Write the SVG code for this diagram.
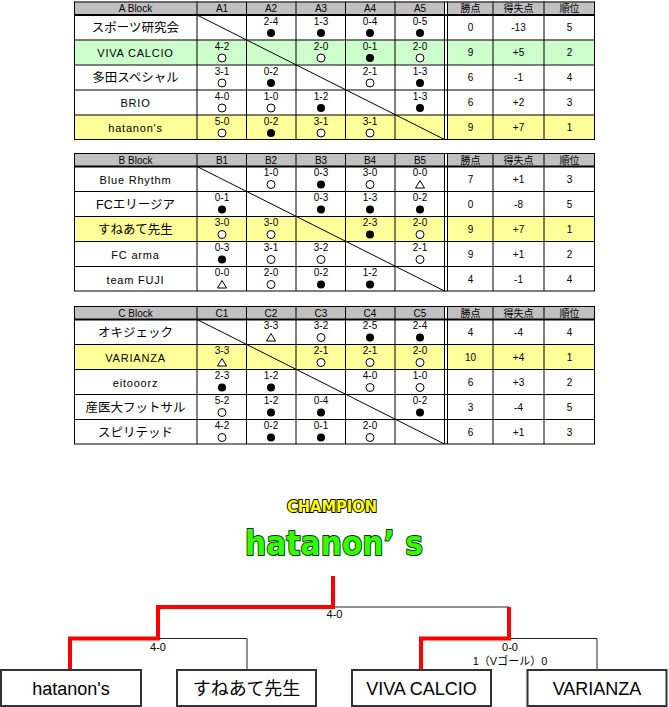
<svg xmlns="http://www.w3.org/2000/svg" xmlns:xlink="http://www.w3.org/1999/xlink" width="669" height="707" viewBox="0 0 669 707">
<style>
text { font-family: "Liberation Sans", "Noto Sans CJK JP", sans-serif; text-anchor: middle; fill: #000; }
.h { font-size: 10px; }
.s { font-size: 10px; }
.n { font-size: 12.5px; }
.nl { font-size: 11px; letter-spacing: 0.8px; }
.t { font-size: 10px; }
.hd { fill: #c0c0c0; }
.g { fill: #ccffcc; }
.y { fill: #ffff99; }
.ln { fill: none; stroke: #000; stroke-width: 1; }
.thk { fill: none; stroke: #000; stroke-width: 2; }
.br { fill: none; stroke: #222; stroke-width: 1; }
.red { fill: none; stroke: #ff0000; stroke-width: 4; }
.box { fill: #fff; stroke: #333; stroke-width: 2; }
.bt { font-size: 18px; }
.bl { font-size: 11px; }
</style>
<defs>
<circle id="w" r="4" fill="#fff" stroke="#000" stroke-width="1"/>
<circle id="l" r="4" fill="#000"/>
<path id="d" d="M0,-4 L4.5,3.5 L-4.5,3.5 Z" fill="#fff" stroke="#000" stroke-width="1"/>
<path id="grid" class="ln" d="M74,0.5H595 M74,38.5H595 M74,63.5H595 M74,88.5H595 M74,113.5H595 M74,138H595 M74.5,0V138 M197,0V138 M246.5,0V138 M296,0V138 M345.5,0V138 M395,0V138 M444.5,0V138 M447.5,0V138 M493,0V138 M544,0V138 M594.5,0V138"/>
</defs>

<!-- A Block -->
<g id="block-a" transform="translate(0,1.5)">
<rect class="hd" x="74" y="0" width="521" height="13"/>
<rect class="g" x="74" y="38" width="521" height="25"/>
<rect class="y" x="74" y="113" width="521" height="25"/>
<rect fill="#fff" x="445" y="0" width="2.5" height="138"/>
<use href="#grid"/>
<path class="thk" d="M74,13.5H595"/>
<path class="ln" d="M197,13.5L444.5,138"/>
<text class="h" x="135.5" y="10.5">A Block</text>
<text class="h" x="222" y="10.5">A1</text>
<text class="h" x="271" y="10.5">A2</text>
<text class="h" x="321" y="10.5">A3</text>
<text class="h" x="370" y="10.5">A4</text>
<text class="h" x="420" y="10.5">A5</text>
<text class="h" x="470.5" y="10.5">勝点</text>
<text class="h" x="518.5" y="10.5">得失点</text>
<text class="h" x="569.5" y="10.5">順位</text>
<!-- row1 -->
<text class="n" x="135.5" y="30.5">スポーツ研究会</text>
<text class="s" x="271" y="23">2-4</text><use href="#l" x="271" y="31.5"/>
<text class="s" x="321" y="23">1-3</text><use href="#l" x="321" y="31.5"/>
<text class="s" x="370" y="23">0-4</text><use href="#l" x="370" y="31.5"/>
<text class="s" x="420" y="23">0-5</text><use href="#l" x="420" y="31.5"/>
<text class="t" x="470.5" y="29.5">0</text><text class="t" x="518.5" y="29.5">-13</text><text class="t" x="569.5" y="29.5">5</text>
<!-- row2 -->
<text class="nl" x="135.5" y="55.5">VIVA CALCIO</text>
<text class="s" x="222" y="48">4-2</text><use href="#w" x="222" y="56.5"/>
<text class="s" x="321" y="48">2-0</text><use href="#w" x="321" y="56.5"/>
<text class="s" x="370" y="48">0-1</text><use href="#l" x="370" y="56.5"/>
<text class="s" x="420" y="48">2-0</text><use href="#w" x="420" y="56.5"/>
<text class="t" x="470.5" y="54.5">9</text><text class="t" x="518.5" y="54.5">+5</text><text class="t" x="569.5" y="54.5">2</text>
<!-- row3 -->
<text class="n" x="135.5" y="80.5">多田スペシャル</text>
<text class="s" x="222" y="73">3-1</text><use href="#w" x="222" y="81.5"/>
<text class="s" x="271" y="73">0-2</text><use href="#l" x="271" y="81.5"/>
<text class="s" x="370" y="73">2-1</text><use href="#w" x="370" y="81.5"/>
<text class="s" x="420" y="73">1-3</text><use href="#l" x="420" y="81.5"/>
<text class="t" x="470.5" y="79.5">6</text><text class="t" x="518.5" y="79.5">-1</text><text class="t" x="569.5" y="79.5">4</text>
<!-- row4 -->
<text class="nl" x="135.5" y="105.5">BRIO</text>
<text class="s" x="222" y="98">4-0</text><use href="#w" x="222" y="106.5"/>
<text class="s" x="271" y="98">1-0</text><use href="#w" x="271" y="106.5"/>
<text class="s" x="321" y="98">1-2</text><use href="#l" x="321" y="106.5"/>
<text class="s" x="420" y="98">1-3</text><use href="#l" x="420" y="106.5"/>
<text class="t" x="470.5" y="104.5">6</text><text class="t" x="518.5" y="104.5">+2</text><text class="t" x="569.5" y="104.5">3</text>
<!-- row5 -->
<text class="nl" x="135.5" y="130.5">hatanon's</text>
<text class="s" x="222" y="123">5-0</text><use href="#w" x="222" y="131.5"/>
<text class="s" x="271" y="123">0-2</text><use href="#l" x="271" y="131.5"/>
<text class="s" x="321" y="123">3-1</text><use href="#w" x="321" y="131.5"/>
<text class="s" x="370" y="123">3-1</text><use href="#w" x="370" y="131.5"/>
<text class="t" x="470.5" y="129.5">9</text><text class="t" x="518.5" y="129.5">+7</text><text class="t" x="569.5" y="129.5">1</text>
</g>

<!-- B Block -->
<g id="block-b" transform="translate(0,153)">
<rect class="hd" x="74" y="0" width="521" height="13"/>
<rect class="y" x="74" y="63" width="521" height="25"/>
<rect fill="#fff" x="445" y="0" width="2.5" height="138"/>
<use href="#grid"/>
<path class="thk" d="M74,13.5H595"/>
<path class="ln" d="M197,13.5L444.5,138"/>
<text class="h" x="135.5" y="10.5">B Block</text>
<text class="h" x="222" y="10.5">B1</text>
<text class="h" x="271" y="10.5">B2</text>
<text class="h" x="321" y="10.5">B3</text>
<text class="h" x="370" y="10.5">B4</text>
<text class="h" x="420" y="10.5">B5</text>
<text class="h" x="470.5" y="10.5">勝点</text>
<text class="h" x="518.5" y="10.5">得失点</text>
<text class="h" x="569.5" y="10.5">順位</text>
<!-- row1 -->
<text class="nl" x="135.5" y="30.5">Blue Rhythm</text>
<text class="s" x="271" y="23">1-0</text><use href="#w" x="271" y="31.5"/>
<text class="s" x="321" y="23">0-3</text><use href="#l" x="321" y="31.5"/>
<text class="s" x="370" y="23">3-0</text><use href="#w" x="370" y="31.5"/>
<text class="s" x="420" y="23">0-0</text><use href="#d" x="420" y="31.5"/>
<text class="t" x="470.5" y="29.5">7</text><text class="t" x="518.5" y="29.5">+1</text><text class="t" x="569.5" y="29.5">3</text>
<!-- row2 -->
<text class="n" x="135.5" y="55.5">FCエリージア</text>
<text class="s" x="222" y="48">0-1</text><use href="#l" x="222" y="56.5"/>
<text class="s" x="321" y="48">0-3</text><use href="#l" x="321" y="56.5"/>
<text class="s" x="370" y="48">1-3</text><use href="#l" x="370" y="56.5"/>
<text class="s" x="420" y="48">0-2</text><use href="#l" x="420" y="56.5"/>
<text class="t" x="470.5" y="54.5">0</text><text class="t" x="518.5" y="54.5">-8</text><text class="t" x="569.5" y="54.5">5</text>
<!-- row3 -->
<text class="n" x="135.5" y="80.5">すねあて先生</text>
<text class="s" x="222" y="73">3-0</text><use href="#w" x="222" y="81.5"/>
<text class="s" x="271" y="73">3-0</text><use href="#w" x="271" y="81.5"/>
<text class="s" x="370" y="73">2-3</text><use href="#l" x="370" y="81.5"/>
<text class="s" x="420" y="73">2-0</text><use href="#w" x="420" y="81.5"/>
<text class="t" x="470.5" y="79.5">9</text><text class="t" x="518.5" y="79.5">+7</text><text class="t" x="569.5" y="79.5">1</text>
<!-- row4 -->
<text class="nl" x="135.5" y="105.5">FC arma</text>
<text class="s" x="222" y="98">0-3</text><use href="#l" x="222" y="106.5"/>
<text class="s" x="271" y="98">3-1</text><use href="#w" x="271" y="106.5"/>
<text class="s" x="321" y="98">3-2</text><use href="#w" x="321" y="106.5"/>
<text class="s" x="420" y="98">2-1</text><use href="#w" x="420" y="106.5"/>
<text class="t" x="470.5" y="104.5">9</text><text class="t" x="518.5" y="104.5">+1</text><text class="t" x="569.5" y="104.5">2</text>
<!-- row5 -->
<text class="nl" x="135.5" y="130.5">team FUJI</text>
<text class="s" x="222" y="123">0-0</text><use href="#d" x="222" y="131.5"/>
<text class="s" x="271" y="123">2-0</text><use href="#w" x="271" y="131.5"/>
<text class="s" x="321" y="123">0-2</text><use href="#l" x="321" y="131.5"/>
<text class="s" x="370" y="123">1-2</text><use href="#l" x="370" y="131.5"/>
<text class="t" x="470.5" y="129.5">4</text><text class="t" x="518.5" y="129.5">-1</text><text class="t" x="569.5" y="129.5">4</text>
</g>

<!-- C Block -->
<g id="block-c" transform="translate(0,306)">
<rect class="hd" x="74" y="0" width="521" height="13"/>
<rect class="y" x="74" y="38" width="521" height="25"/>
<rect fill="#fff" x="445" y="0" width="2.5" height="138"/>
<use href="#grid"/>
<path class="thk" d="M74,13.5H595"/>
<path class="ln" d="M197,13.5L444.5,138"/>
<text class="h" x="135.5" y="10.5">C Block</text>
<text class="h" x="222" y="10.5">C1</text>
<text class="h" x="271" y="10.5">C2</text>
<text class="h" x="321" y="10.5">C3</text>
<text class="h" x="370" y="10.5">C4</text>
<text class="h" x="420" y="10.5">C5</text>
<text class="h" x="470.5" y="10.5">勝点</text>
<text class="h" x="518.5" y="10.5">得失点</text>
<text class="h" x="569.5" y="10.5">順位</text>
<!-- row1 -->
<text class="n" x="135.5" y="30.5">オキジェック</text>
<text class="s" x="271" y="23">3-3</text><use href="#d" x="271" y="31.5"/>
<text class="s" x="321" y="23">3-2</text><use href="#w" x="321" y="31.5"/>
<text class="s" x="370" y="23">2-5</text><use href="#l" x="370" y="31.5"/>
<text class="s" x="420" y="23">2-4</text><use href="#l" x="420" y="31.5"/>
<text class="t" x="470.5" y="29.5">4</text><text class="t" x="518.5" y="29.5">-4</text><text class="t" x="569.5" y="29.5">4</text>
<!-- row2 -->
<text class="nl" x="135.5" y="55.5">VARIANZA</text>
<text class="s" x="222" y="48">3-3</text><use href="#d" x="222" y="56.5"/>
<text class="s" x="321" y="48">2-1</text><use href="#w" x="321" y="56.5"/>
<text class="s" x="370" y="48">2-1</text><use href="#w" x="370" y="56.5"/>
<text class="s" x="420" y="48">2-0</text><use href="#w" x="420" y="56.5"/>
<text class="t" x="470.5" y="54.5">10</text><text class="t" x="518.5" y="54.5">+4</text><text class="t" x="569.5" y="54.5">1</text>
<!-- row3 -->
<text class="nl" x="135.5" y="80.5">eitooorz</text>
<text class="s" x="222" y="73">2-3</text><use href="#l" x="222" y="81.5"/>
<text class="s" x="271" y="73">1-2</text><use href="#l" x="271" y="81.5"/>
<text class="s" x="370" y="73">4-0</text><use href="#w" x="370" y="81.5"/>
<text class="s" x="420" y="73">1-0</text><use href="#w" x="420" y="81.5"/>
<text class="t" x="470.5" y="79.5">6</text><text class="t" x="518.5" y="79.5">+3</text><text class="t" x="569.5" y="79.5">2</text>
<!-- row4 -->
<text class="n" x="135.5" y="105.5">産医大フットサル</text>
<text class="s" x="222" y="98">5-2</text><use href="#w" x="222" y="106.5"/>
<text class="s" x="271" y="98">1-2</text><use href="#l" x="271" y="106.5"/>
<text class="s" x="321" y="98">0-4</text><use href="#l" x="321" y="106.5"/>
<text class="s" x="420" y="98">0-2</text><use href="#l" x="420" y="106.5"/>
<text class="t" x="470.5" y="104.5">3</text><text class="t" x="518.5" y="104.5">-4</text><text class="t" x="569.5" y="104.5">5</text>
<!-- row5 -->
<text class="n" x="135.5" y="130.5">スピリテッド</text>
<text class="s" x="222" y="123">4-2</text><use href="#w" x="222" y="131.5"/>
<text class="s" x="271" y="123">0-2</text><use href="#l" x="271" y="131.5"/>
<text class="s" x="321" y="123">0-1</text><use href="#l" x="321" y="131.5"/>
<text class="s" x="370" y="123">2-0</text><use href="#w" x="370" y="131.5"/>
<text class="t" x="470.5" y="129.5">6</text><text class="t" x="518.5" y="129.5">+1</text><text class="t" x="569.5" y="129.5">3</text>
</g>

<!-- Champion -->
<g id="champion">
<text x="332" y="512" style="font-family:'DejaVu Sans',sans-serif;font-weight:bold;font-size:16px;fill:#ffff00;stroke:#000;stroke-width:2;paint-order:stroke;stroke-linejoin:round" textLength="90" lengthAdjust="spacingAndGlyphs">CHAMPION</text>
<text x="334" y="555" style="font-family:'DejaVu Sans',sans-serif;font-weight:bold;font-size:34px;fill:#33ff00;stroke:#003300;stroke-width:2;paint-order:stroke;stroke-linejoin:round" textLength="178" lengthAdjust="spacingAndGlyphs">hatanon’ s</text>
</g>

<!-- Connectors -->
<g id="connectors">
<path class="br" d="M158,607H509 M70,638.5H247V669 M421,638.5H597V669"/>
<path class="red" d="M333,576V607H158V638.5H70V669"/>
<path class="red" d="M509,607V638.5H421V669"/>
<text class="bl" x="334.5" y="618">4-0</text>
<text class="bl" x="158" y="651">4-0</text>
<text class="bl" x="510" y="651">0-0</text>
<text class="bl" x="510" y="665">1（Vゴール）0</text>
</g>

<g id="team-hatanons">
<rect class="box" x="1" y="670" width="140" height="36"/>
<text class="bt" x="71" y="694.5">hatanon's</text>
</g>
<g id="team-suneate">
<rect class="box" x="177" y="670" width="139" height="36"/>
<text class="bt" x="246.5" y="694.5">すねあて先生</text>
</g>
<g id="team-viva">
<rect class="box" x="352" y="670" width="139" height="36"/>
<text class="bt" x="421.5" y="694.5">VIVA CALCIO</text>
</g>
<g id="team-varianza">
<rect class="box" x="527.5" y="670" width="139" height="36"/>
<text class="bt" x="597" y="694.5">VARIANZA</text>
</g>
</svg>
